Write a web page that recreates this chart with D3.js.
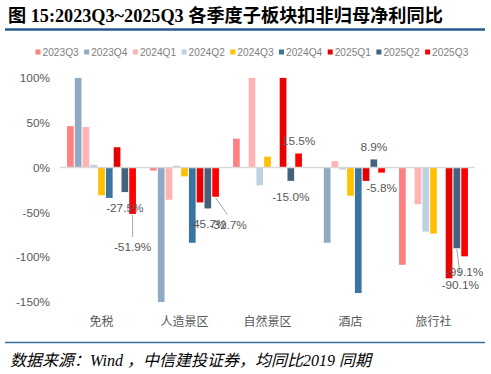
<!DOCTYPE html>
<html><head><meta charset="utf-8">
<script src="https://cdn.jsdelivr.net/npm/d3@7"></script>
<style>
html,body{margin:0;padding:0;background:#fff;}
svg{display:block;}
</style></head>
<body>
<svg id="c" width="491" height="374"></svg>
<script>
// ---- data ----
const categories = ["免税", "人造景区", "自然景区", "酒店", "旅行社"];
const seriesNames = ["2023Q3","2023Q4","2024Q1","2024Q2","2024Q3","2024Q4","2025Q1","2025Q2","2025Q3"];
// values per series, in order of categories (null = no bar); bars beyond axis are shown clipped
const s2023Q3 = [46, -3.4, 32, null, -108.5];
const s2023Q4 = [100, -150, null, -84, null];
const s2024Q1 = [45, -36, 100, 7, -41];
const s2024Q2 = [3, 2, -20, -2.5, -71.5];
const s2024Q3 = [-31, -10, 12, -31.5, -73.7];
const s2024Q4 = [-34, -84, null, -140, null];
const s2025Q1 = [22.5, -39, 100, -15, -123.6];
const s2025Q2 = [-27.5, -45.7, -15.0, 8.9, -90.1];
const s2025Q3 = [-51.9, -32.7, 15.5, -5.8, -99.1];
const seriesValues = [s2023Q3, s2023Q4, s2024Q1, s2024Q2, s2024Q3, s2024Q4, s2025Q1, s2025Q2, s2025Q3];
const yTicks = [-150, -100, -50, 0, 50, 100];
const labelledSeries = ["2025Q2", "2025Q3"];

// ---- style ----
const colors = ["#FF8080","#8FAAC2","#FFB3B3","#BDD1E0","#FFC000","#3A74A0","#E60000","#44627D","#FF0000"];
const textGrey = "#595959";
// label placement tweaks (category index, series name) -> [dx, dy, leader]
const labelTweaks = {
  "0|2025Q3": [0, 33, true],
  "1|2025Q3": [12.5, 28, true],
  "4|2025Q2": [3.5, 37, true]
};

const svg = d3.select("#c");

// title
svg.append("text").attr("x", 8).attr("y", 22)
  .attr("font-family", "'Liberation Serif','Noto Sans CJK SC',serif")
  .attr("font-weight", "bold").attr("font-size", 18.2).attr("fill", "#000")
  .text("图 15:2023Q3~2025Q3 各季度子板块扣非归母净利同比");
svg.append("line").attr("x1", 5).attr("x2", 485).attr("y1", 29.5).attr("y2", 29.5)
  .attr("stroke", "#24588A").attr("stroke-width", 2.5);

// legend
const legend = svg.append("g");
seriesNames.forEach((n, i) => {
  const lx = 35.5 + i * 48.7;
  legend.append("rect").attr("x", lx).attr("y", 49.5).attr("width", 5).attr("height", 5).attr("fill", colors[i]);
  legend.append("text").attr("x", lx + 7).attr("y", 56).attr("font-family", "'Liberation Sans',Arial,sans-serif")
    .attr("font-size", 10.2).attr("fill", "#7f7f7f").text(n);
});

// scales
const y = d3.scaleLinear().domain([-150, 100]).range([302, 77.7]);
const x0 = d3.scaleBand().domain(categories).range([60, 475]).paddingInner(0.157).paddingOuter(0.0785);
const x1 = d3.scaleBand().domain(seriesNames).range([0, x0.bandwidth()]).paddingInner(0.14).paddingOuter(0.07);

// y axis labels
const yAxis = d3.axisLeft(y).tickValues(yTicks).tickSize(0).tickPadding(0).tickFormat(d => d + "%");
const ya = svg.append("g").attr("transform", "translate(50,0)").call(yAxis);
ya.select(".domain").remove();
ya.selectAll("text").attr("font-family", "'Liberation Sans',Arial,sans-serif").attr("font-size", 11.8).attr("fill", textGrey);

// clip
svg.append("clipPath").attr("id", "plotclip").append("rect")
  .attr("x", 55).attr("y", y(100)).attr("width", 425).attr("height", y(-150) - y(100));

// bars
const rows = [];
seriesNames.forEach((s, si) => categories.forEach((c, ci) => {
  const v = seriesValues[si][ci];
  if (v !== null) rows.push({s, si, c, ci, v});
}));
svg.append("g").attr("clip-path", "url(#plotclip)").selectAll("rect").data(rows).join("rect")
  .attr("x", d => x0(d.c) + x1(d.s))
  .attr("width", x1.bandwidth())
  .attr("y", d => y(Math.max(0, d.v)))
  .attr("height", d => Math.abs(y(d.v) - y(0)))
  .attr("fill", d => colors[d.si]);

// zero axis
svg.append("line").attr("x1", 60).attr("x2", 475).attr("y1", y(0)).attr("y2", y(0))
  .attr("stroke", "#D9D9D9").attr("stroke-width", 1.5);

// category labels
const xa = svg.append("g").attr("transform", "translate(0,321.7)").call(d3.axisBottom(x0).tickSize(0).tickPadding(0));
xa.select(".domain").remove();
xa.selectAll("text").attr("dy", "0.35em").attr("font-family", "'Noto Sans CJK SC',sans-serif").attr("font-size", 12).attr("fill", textGrey);

// data labels
const lg = svg.append("g");
rows.filter(d => labelledSeries.includes(d.s)).forEach(d => {
  const cx = x0(d.c) + x1(d.s) + x1.bandwidth() / 2;
  const ey = y(d.v);
  const tw = labelTweaks[d.ci + "|" + d.s];
  let dx = 0, dy = d.v >= 0 ? -13 : 15.5, leader = false;
  if (tw) { dx = tw[0]; dy = tw[1]; leader = tw[2]; }
  if (leader) {
    lg.append("line").attr("x1", cx).attr("y1", ey + 1).attr("x2", cx + dx * 0.95).attr("y2", ey + dy - 10)
      .attr("stroke", "#A6A6A6").attr("stroke-width", 1);
  }
  lg.append("text").attr("x", cx + dx).attr("y", ey + dy).attr("dy", "0.35em").attr("text-anchor", "middle")
    .attr("font-family", "'Liberation Sans',Arial,sans-serif").attr("font-size", 11.8).attr("fill", textGrey)
    .text(d.v.toFixed(1) + "%");
});

// bottom rule & source
svg.append("line").attr("x1", 5).attr("x2", 485).attr("y1", 342.5).attr("y2", 342.5)
  .attr("stroke", "#3C6E9C").attr("stroke-width", 1.5);
svg.append("text").attr("x", 10).attr("y", 366)
  .attr("font-family", "'Liberation Serif','Noto Sans CJK SC',serif").attr("font-style", "italic")
  .attr("font-size", 16).attr("fill", "#000")
  .text("数据来源：Wind ，中信建投证券，均同比2019 同期");
</script>
</body></html>
